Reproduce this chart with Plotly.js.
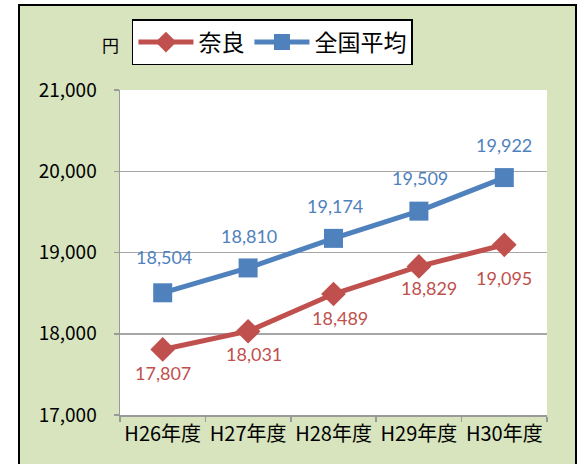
<!DOCTYPE html>
<html>
<head>
<meta charset="utf-8">
<script src="https://cdn.plot.ly/plotly-3.0.1.min.js"></script>
<style>
html,body{margin:0;padding:0;background:#ffffff;overflow:hidden;}
#frame{position:absolute;left:18px;top:4px;width:555px;height:470px;border:2px solid #000;border-bottom:none;background:#d7e4bd;}
#chart{width:555px;height:458px;}
</style>
</head>
<body>
<div id="frame"><div id="chart"></div></div>
<script>
const categories = ["H26年度", "H27年度", "H28年度", "H29年度", "H30年度"];
const naraValues = [17807, 18031, 18489, 18829, 19095];
const nationalValues = [18504, 18810, 19174, 19509, 19922];
const seriesNames = ["奈良", "全国平均"];
const unitLabel = "円";

// label placement (style only)
const naraLabelDx = [0, 6, 6, 10, 0];
const naraLabelDy = [-24, -23, -24, -22, -33];
const natLabelDx = [1, 1, 1, 1, 0];
const natLabelDy = [36, 32, 32, 33, 33];

const RED = "#c0504d", BLUE = "#4f81bd";
const CJK = "'Noto Sans CJK JP', 'Noto Sans', sans-serif";
const fmt = v => v.toLocaleString("en-US");

const traces = [
  {x: categories, y: naraValues, name: seriesNames[0], type: "scatter", mode: "lines+markers",
   line: {color: RED, width: 5}, marker: {symbol: "diamond", size: 19, color: RED}},
  {x: categories, y: nationalValues, name: seriesNames[1], type: "scatter", mode: "lines+markers",
   line: {color: BLUE, width: 5}, marker: {symbol: "square", size: 19, color: BLUE}}
];

const annotations = [];
categories.forEach((c, i) => {
  annotations.push({x: c, y: naraValues[i], xref: "x", yref: "y", text: fmt(naraValues[i]),
    showarrow: false, xshift: naraLabelDx[i], yshift: naraLabelDy[i],
    font: {family: "Lato, 'Open Sans', sans-serif", size: 18, color: RED}});
  annotations.push({x: c, y: nationalValues[i], xref: "x", yref: "y", text: fmt(nationalValues[i]),
    showarrow: false, xshift: natLabelDx[i], yshift: natLabelDy[i],
    font: {family: "Lato, 'Open Sans', sans-serif", size: 18, color: BLUE}});
});
annotations.push({x: -0.023, y: 1.1415, xref: "paper", yref: "paper", text: unitLabel, showarrow: false,
  xanchor: "center", yanchor: "middle",
  font: {family: CJK, size: 17, color: "#000"}});

const layout = {
  width: 555, height: 458,
  paper_bgcolor: "#d7e4bd", plot_bgcolor: "#ffffff",
  margin: {l: 100, r: 28, t: 84, b: 49},
  font: {family: CJK, color: "#000"},
  showlegend: true,
  legend: {orientation: "h", x: 0.028, y: 1.218, xanchor: "left", yanchor: "top",
    bgcolor: "#ffffff", bordercolor: "#000", borderwidth: 1.5,
    font: {family: CJK, size: 23, color: "#000"},
    itemwidth: 55, tracegroupgap: 0},
  xaxis: {type: "category", range: [-0.5, categories.length - 0.5], autorange: false,
    showgrid: false, showline: true, linecolor: "#999", linewidth: 1.5,
    ticks: "outside", tickson: "boundaries", ticklen: 5, tickcolor: "#999", tickwidth: 1.5,
    tickangle: 0,
    tickfont: {family: CJK, size: 20, color: "#000"},
    fixedrange: true, zeroline: false},
  yaxis: {range: [17000, 21000], dtick: 1000, tick0: 17000, tickformat: ",d",
    showgrid: true, gridcolor: "#a6a6a6", gridwidth: 1.5,
    showline: true, linecolor: "#999", linewidth: 1.5,
    ticks: "outside", ticklen: 5, tickcolor: "#999", tickwidth: 1.5, ticklabelstandoff: 13,
    tickfont: {family: CJK, size: 19, color: "#000"},
    zeroline: false, fixedrange: true},
  annotations: annotations
};

Plotly.newPlot("chart", traces, layout, {displayModeBar: false, staticPlot: true});
</script>
</body>
</html>
